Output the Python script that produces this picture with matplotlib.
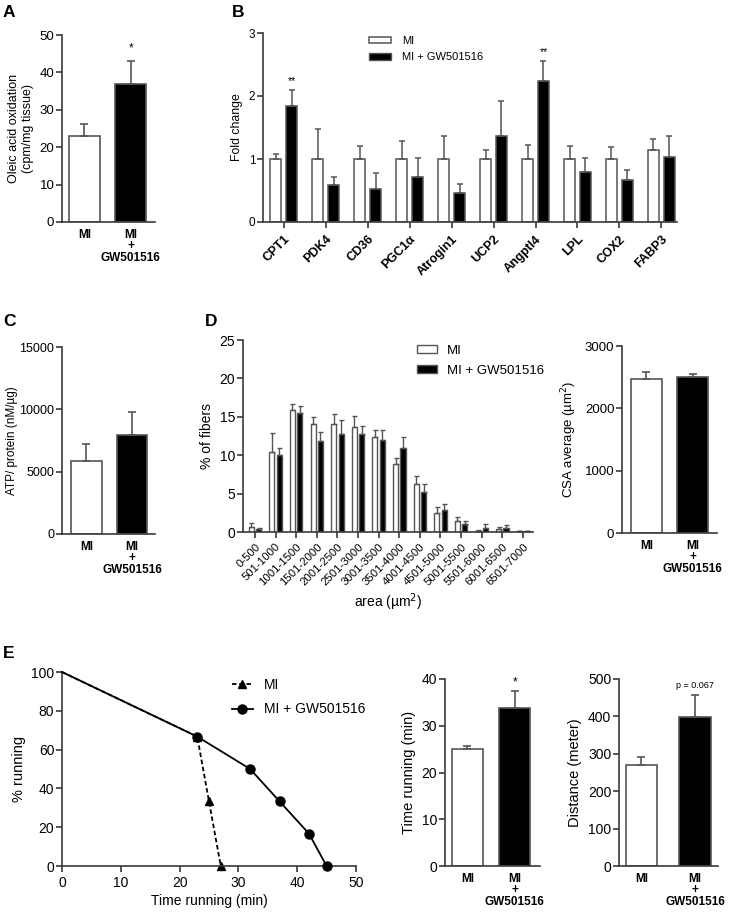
import matplotlib
matplotlib.use('Agg')
import matplotlib.pyplot as plt
from matplotlib.patches import Patch
import numpy as np

plt.rcParams['font.family'] = ['Liberation Sans', 'DejaVu Sans']

# ---- data ----
grp_labels = ['MI', 'MI\n+\nGW501516']

# A: oleic acid oxidation
oleic_vals = [23.0, 37.0]
oleic_err = [3.3, 6.0]

# B: gene expression
genes = ['CPT1', 'PDK4', 'CD36', 'PGC1α', 'Atrogin1', 'UCP2', 'Angptl4', 'LPL', 'COX2', 'FABP3']
gene_mi = [1.0, 1.0, 1.0, 1.0, 1.0, 1.0, 1.0, 1.0, 1.0, 1.14]
gene_mi_err = [0.08, 0.48, 0.21, 0.29, 0.37, 0.15, 0.22, 0.21, 0.19, 0.18]
gene_gw = [1.84, 0.59, 0.53, 0.72, 0.46, 1.37, 2.24, 0.80, 0.66, 1.03]
gene_gw_err = [0.26, 0.13, 0.25, 0.30, 0.15, 0.55, 0.31, 0.22, 0.17, 0.34]
gene_stars = ['**', '', '', '', '', '', '**', '', '', '']

# C: ATP
atp_vals = [5880, 7920]
atp_err = [1300, 1900]

# D: fiber size distribution
bins = ['0-500', '501-1000', '1001-1500', '1501-2000', '2001-2500', '2501-3000',
        '3001-3500', '3501-4000', '4001-4500', '4501-5000', '5001-5500',
        '5501-6000', '6001-6500', '6501-7000']
fib_mi = [0.7, 10.4, 15.9, 14.1, 14.0, 13.7, 12.4, 8.8, 6.2, 2.5, 1.4, 0.15, 0.45, 0.08]
fib_mi_err = [0.5, 2.5, 0.8, 0.9, 1.3, 1.4, 0.9, 0.8, 1.1, 0.8, 0.6, 0.1, 0.25, 0.03]
fib_gw = [0.4, 10.0, 15.5, 11.9, 12.7, 12.8, 12.0, 10.9, 5.2, 2.8, 1.0, 0.5, 0.5, 0.1]
fib_gw_err = [0.1, 1.0, 0.9, 1.1, 1.9, 1.0, 1.3, 1.5, 1.1, 0.8, 0.4, 0.5, 0.4, 0.03]

# D right: CSA average
csa_vals = [2470, 2495]
csa_err = [110, 60]

# E: running
t_mi = [0, 23, 25, 27]
run_mi = [100, 66.7, 33.3, 0]
t_gw = [0, 23, 32, 37, 42, 45]
run_gw = [100, 66.7, 50, 33.3, 16.7, 0]

time_vals = [25.0, 33.8]
time_err = [0.7, 3.7]
dist_vals = [271, 398]
dist_err = [21, 60]

# ---- figure ----
W, H = 729, 913
fig = plt.figure(figsize=(W / 100, H / 100), dpi=100)
axcol = '#3a3a3a'
edge = '#555555'


def make_ax(x0, x1, ytop, ybot):
    return fig.add_axes([x0 / W, 1 - ybot / H, (x1 - x0) / W, (ybot - ytop) / H])


def style(ax, fs):
    for s in ['top', 'right']:
        ax.spines[s].set_visible(False)
    for s in ['left', 'bottom']:
        ax.spines[s].set_color(axcol)
        ax.spines[s].set_linewidth(1.2)
    ax.tick_params(direction='out', length=4, width=1.2, color=axcol, labelsize=fs, pad=1.5)


def two_bars(ax, vals, errs, xlim, width, ylim, yticks, ylabel, fs, lab_fs=9):
    style(ax, fs)
    x = np.arange(2)
    cols = ['white', 'black']
    for i in range(2):
        ax.bar(x[i], vals[i], width, color=cols[i], edgecolor=edge, linewidth=1.2,
               yerr=[[0], [errs[i]]], error_kw=dict(ecolor=edge, elinewidth=1.2, capsize=3, capthick=1.2),
               zorder=2)
    ax.set_xlim(*xlim)
    ax.set_ylim(*ylim)
    ax.set_yticks(yticks)
    ax.set_xticks(x)
    ax.set_xticklabels(grp_labels, fontweight='bold', fontsize=8.5, linespacing=0.95)
    ax.tick_params(axis='x', length=0, pad=5)
    ax.set_ylabel(ylabel, fontsize=lab_fs)


def panel_letter(x, y, s):
    fig.text(x / W, 1 - y / H, s, fontsize=12.5, fontweight='bold', va='baseline', ha='left')


# A
axA = make_ax(62, 155, 35, 222)
two_bars(axA, oleic_vals, oleic_err, (-0.48, 1.52), 0.67, (0, 50), [0, 10, 20, 30, 40, 50],
         'Oleic acid oxidation\n(cpm/mg tissue)', 9.5, lab_fs=9)
axA.text(1, 46.5, '*', ha='center', va='center', fontsize=8.5)
panel_letter(3, 17, 'A')

# B
axB = make_ax(263, 677, 33, 222)
style(axB, 8.5)
xg = np.arange(len(genes))
off = 0.19
wb = 0.27
axB.bar(xg - off, gene_mi, wb, color='white', edgecolor=edge, linewidth=1.1,
        yerr=[np.zeros(len(genes)), gene_mi_err],
        error_kw=dict(ecolor=edge, elinewidth=1.1, capsize=2.5, capthick=1.1))
axB.bar(xg + off, gene_gw, wb, color='black', edgecolor=edge, linewidth=1.1,
        yerr=[np.zeros(len(genes)), gene_gw_err],
        error_kw=dict(ecolor=edge, elinewidth=1.1, capsize=2.5, capthick=1.1))
for i, s in enumerate(gene_stars):
    if s:
        axB.text(xg[i] + off, gene_gw[i] + gene_gw_err[i] + 0.06, s, ha='center', va='bottom', fontsize=7.5)
axB.set_xlim(-0.49, 9.37)
axB.set_ylim(0, 3)
axB.set_yticks([0, 1, 2, 3])
axB.set_xticks(xg)
axB.set_xticklabels(genes, rotation=45, ha='right', rotation_mode='anchor', fontweight='bold', fontsize=9)
axB.tick_params(axis='x', pad=4)
axB.set_ylabel('Fold change', fontsize=8.8)
hB = [Patch(facecolor='white', edgecolor=edge, linewidth=1.1), Patch(facecolor='black', edgecolor=edge)]
axB.legend(hB, ['MI', 'MI + GW501516'], loc='upper left', bbox_to_anchor=(369 / W, 1 - 36 / H),
           bbox_transform=fig.transFigure, frameon=False, fontsize=8, handlelength=2.0,
           handleheight=0.55, handletextpad=1.0, labelspacing=0.55, borderpad=0, borderaxespad=0)
panel_letter(232, 17, 'B')

# C
axC = make_ax(62, 155, 347, 534)
two_bars(axC, atp_vals, atp_err, (-0.53, 1.5), 0.67, (0, 15000), [0, 5000, 10000, 15000],
         'ATP/ protein (nM/µg)', 9, lab_fs=8.5)
axC.yaxis.set_label_coords(-0.47, 0.5)
panel_letter(3, 326, 'C')

# D
axD = make_ax(243, 533, 340, 532)
style(axD, 10)
xb = np.arange(len(bins))
offd = 0.18
wd = 0.25
axD.bar(xb - offd, fib_mi, wd, color='white', edgecolor=edge, linewidth=1.0,
        yerr=[np.zeros(len(bins)), fib_mi_err],
        error_kw=dict(ecolor=edge, elinewidth=1.0, capsize=1.8, capthick=1.0))
axD.bar(xb + offd, fib_gw, wd, color='black', edgecolor=edge, linewidth=1.0,
        yerr=[np.zeros(len(bins)), fib_gw_err],
        error_kw=dict(ecolor=edge, elinewidth=1.0, capsize=1.8, capthick=1.0))
axD.set_xlim(-0.58, 13.49)
axD.set_ylim(0, 25)
axD.set_yticks([0, 5, 10, 15, 20, 25])
axD.set_xticks(xb)
axD.set_xticklabels(bins, rotation=45, ha='right', rotation_mode='anchor', fontsize=8.2)
axD.tick_params(axis='x', pad=3)
axD.set_ylabel('% of fibers', fontsize=10)
axD.set_xlabel('area (µm$^2$)', fontsize=10, labelpad=3)
hD = [Patch(facecolor='white', edgecolor=edge, linewidth=1.0), Patch(facecolor='black', edgecolor=edge)]
axD.legend(hD, ['MI', 'MI + GW501516'], loc='upper left', bbox_to_anchor=(417 / W, 1 - 345 / H),
           bbox_transform=fig.transFigure, frameon=False, fontsize=9.5, handlelength=1.5,
           handleheight=0.55, handletextpad=0.8, labelspacing=0.6, borderpad=0, borderaxespad=0)
panel_letter(205, 326, 'D')

# D right
axCSA = make_ax(622, 717, 346, 533)
two_bars(axCSA, csa_vals, csa_err, (-0.53, 1.53), 0.67, (0, 3000), [0, 1000, 2000, 3000],
         'CSA average (µm$^2$)', 9.5, lab_fs=9.5)

# E line chart
axE = make_ax(62, 356, 672, 866)
style(axE, 10)
axE.plot(t_mi, run_mi, color='black', ls=(0, (2.5, 1.5)), lw=1.3, marker='^', ms=6, clip_on=False,
         markevery=list(range(1, len(t_mi))), label='MI', zorder=2)
axE.plot(t_gw, run_gw, color='black', ls='-', lw=1.3, marker='o', ms=6.5, clip_on=False,
         markevery=list(range(1, len(t_gw))), label='MI + GW501516', zorder=3)
axE.set_xlim(0, 50)
axE.set_ylim(0, 100)
axE.set_xticks([0, 10, 20, 30, 40, 50])
axE.set_yticks([0, 20, 40, 60, 80, 100])
axE.tick_params(axis='x', pad=3)
axE.set_xlabel('Time running (min)', fontsize=10, labelpad=3)
axE.set_ylabel('% running', fontsize=10.5)
axE.legend(loc='upper left', bbox_to_anchor=(232 / W, 1 - 678 / H), bbox_transform=fig.transFigure,
           frameon=False, fontsize=10, handlelength=1.5, handletextpad=0.8, labelspacing=0.75,
           numpoints=1, borderpad=0, borderaxespad=0)
panel_letter(3, 658, 'E')

# E middle
axT = make_ax(445, 540, 679, 866)
two_bars(axT, time_vals, time_err, (-0.47, 1.53), 0.65, (0, 40), [0, 10, 20, 30, 40],
         'Time running (min)', 10, lab_fs=10.5)
axT.text(1, 39.3, '*', ha='center', va='center', fontsize=8.5)

# E right
axDist = make_ax(619, 718, 679, 866)
two_bars(axDist, dist_vals, dist_err, (-0.42, 1.43), 0.58, (0, 500), [0, 100, 200, 300, 400, 500],
         'Distance (meter)', 10, lab_fs=10.5)
axDist.text(1, 470, 'p = 0.067', ha='center', va='bottom', fontsize=6.5)

fig.savefig('out.png', dpi=100)
